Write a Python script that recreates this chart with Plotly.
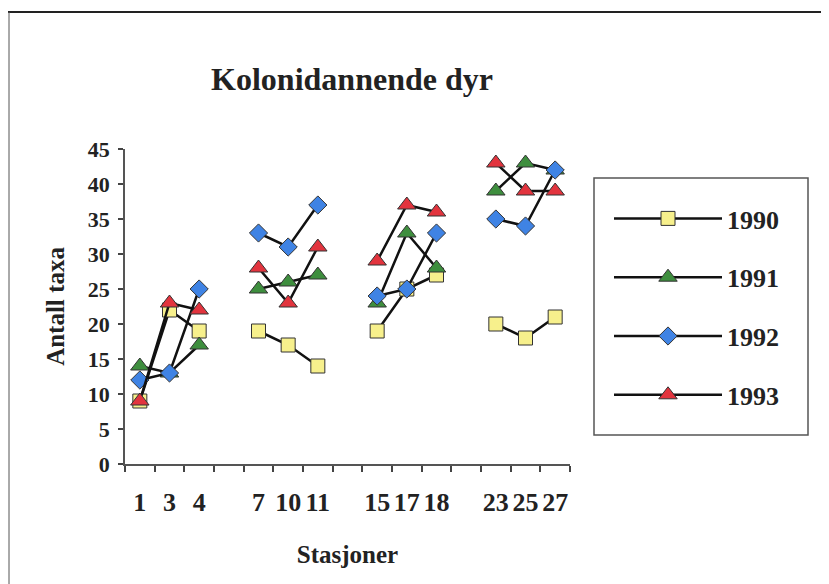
import plotly.graph_objects as go

stations = ["1", "3", "4", None, "7", "10", "11", None, "15", "17", "18", None, "23", "25", "27"]
years = ["1990", "1991", "1992", "1993"]
v1990 = [9, 22, 19, None, 19, 17, 14, None, 19, 25, 27, None, 20, 18, 21]
v1991 = [14, 13, 17, None, 25, 26, 27, None, 23, 33, 28, None, 39, 43, 42]
v1992 = [12, 13, 25, None, 33, 31, 37, None, 24, 25, 33, None, 35, 34, 42]
v1993 = [9, 23, 22, None, 28, 23, 31, None, 29, 37, 36, None, 43, 39, 39]

series = [v1990, v1991, v1992, v1993]
symbols = ["square", "triangle-up", "diamond", "triangle-up"]
colors = ["#F7F08C", "#3E8E3E", "#3F83E4", "#E2343E"]
sizes = [14, 16, 14, 16]

xpos = list(range(len(stations)))
tickvals = [i for i, s in enumerate(stations) if s is not None]
ticktext = [s for s in stations if s is not None]

FONT = "Liberation Serif"
TXT = "#222222"

fig = go.Figure()
for name, vals, sym, col, sz in zip(years, series, symbols, colors, sizes):
    fig.add_trace(go.Scatter(
        x=xpos, y=vals, name=name, mode="lines+markers", legendgroup=name,
        connectgaps=False,
        line=dict(color="#111111", width=2.5),
        marker=dict(symbol=sym, size=sz, color=col, line=dict(color="#333333", width=1)),
    ))

# page body has an 8px margin: work in reference pixel coords minus 8
O = 8
W, H = 829 - O, 584 - O
L, R, T, B = 125 - O, 570 - O, 149 - O, 464 - O
def px(x):
    return (x - O - L) / (R - L)
def py(y):
    return (B - (y - O)) / (B - T)

shapes = []
# outer frame (top and left)
shapes.append(dict(type="line", xref="paper", yref="paper", x0=px(8), x1=px(829), y0=py(12), y1=py(12),
                   line=dict(color="#222222", width=2)))
shapes.append(dict(type="line", xref="paper", yref="paper", x0=px(9), x1=px(9), y0=py(12), y1=py(584),
                   line=dict(color="#555555", width=1)))
# legend box
shapes.append(dict(type="rect", xref="paper", yref="paper", x0=px(594), x1=px(808), y0=py(435), y1=py(178),
                   line=dict(color="#555555", width=1.5)))

fig.update_layout(
    width=W, height=H,
    margin=dict(l=L, r=W - R, t=T, b=H - B),
    paper_bgcolor="white", plot_bgcolor="white",
    font=dict(family=FONT, color=TXT, weight="bold"),
    title=dict(text="Kolonidannende dyr", font=dict(family=FONT, size=32, color=TXT, weight="bold"),
               x=(352 - O) / W, xref="container", xanchor="center",
               y=1 - (79 - O) / H, yref="container", yanchor="middle"),
    showlegend=True,
    legend=dict(x=px(609), xanchor="left", y=py(195), yanchor="top",
                font=dict(family=FONT, size=26, color=TXT, weight="bold"), bgcolor="rgba(0,0,0,0)",
                borderwidth=0, tracegroupgap=22, itemwidth=108, traceorder="grouped"),
    shapes=shapes,
)
fig.update_xaxes(
    range=[-0.5, len(stations) - 0.5], tickmode="array", tickvals=tickvals, ticktext=ticktext,
    ticks="", showgrid=False, zeroline=False, showline=True, linecolor="#555555", linewidth=1.5,
    tickfont=dict(family=FONT, size=26, color=TXT, weight="bold"), ticklabelstandoff=14,
    minor=dict(tick0=-0.5, dtick=1, ticks="outside", ticklen=6, tickcolor="#444444", tickwidth=1.5, showgrid=False),
    title=dict(text="Stasjoner", font=dict(family=FONT, size=25, color=TXT, weight="bold"), standoff=30),
)
fig.update_yaxes(
    range=[0, 45], dtick=5, tick0=0, ticks="outside", ticklen=5, tickcolor="#444444", tickwidth=1.5,
    showgrid=False, zeroline=False, showline=True, linecolor="#555555", linewidth=1.5,
    tickfont=dict(family=FONT, size=22, color=TXT, weight="bold"), ticklabelstandoff=4,
    title=dict(text="Antall taxa", font=dict(family=FONT, size=25, color=TXT, weight="bold"), standoff=16),
)
fig.write_html("out.html")
